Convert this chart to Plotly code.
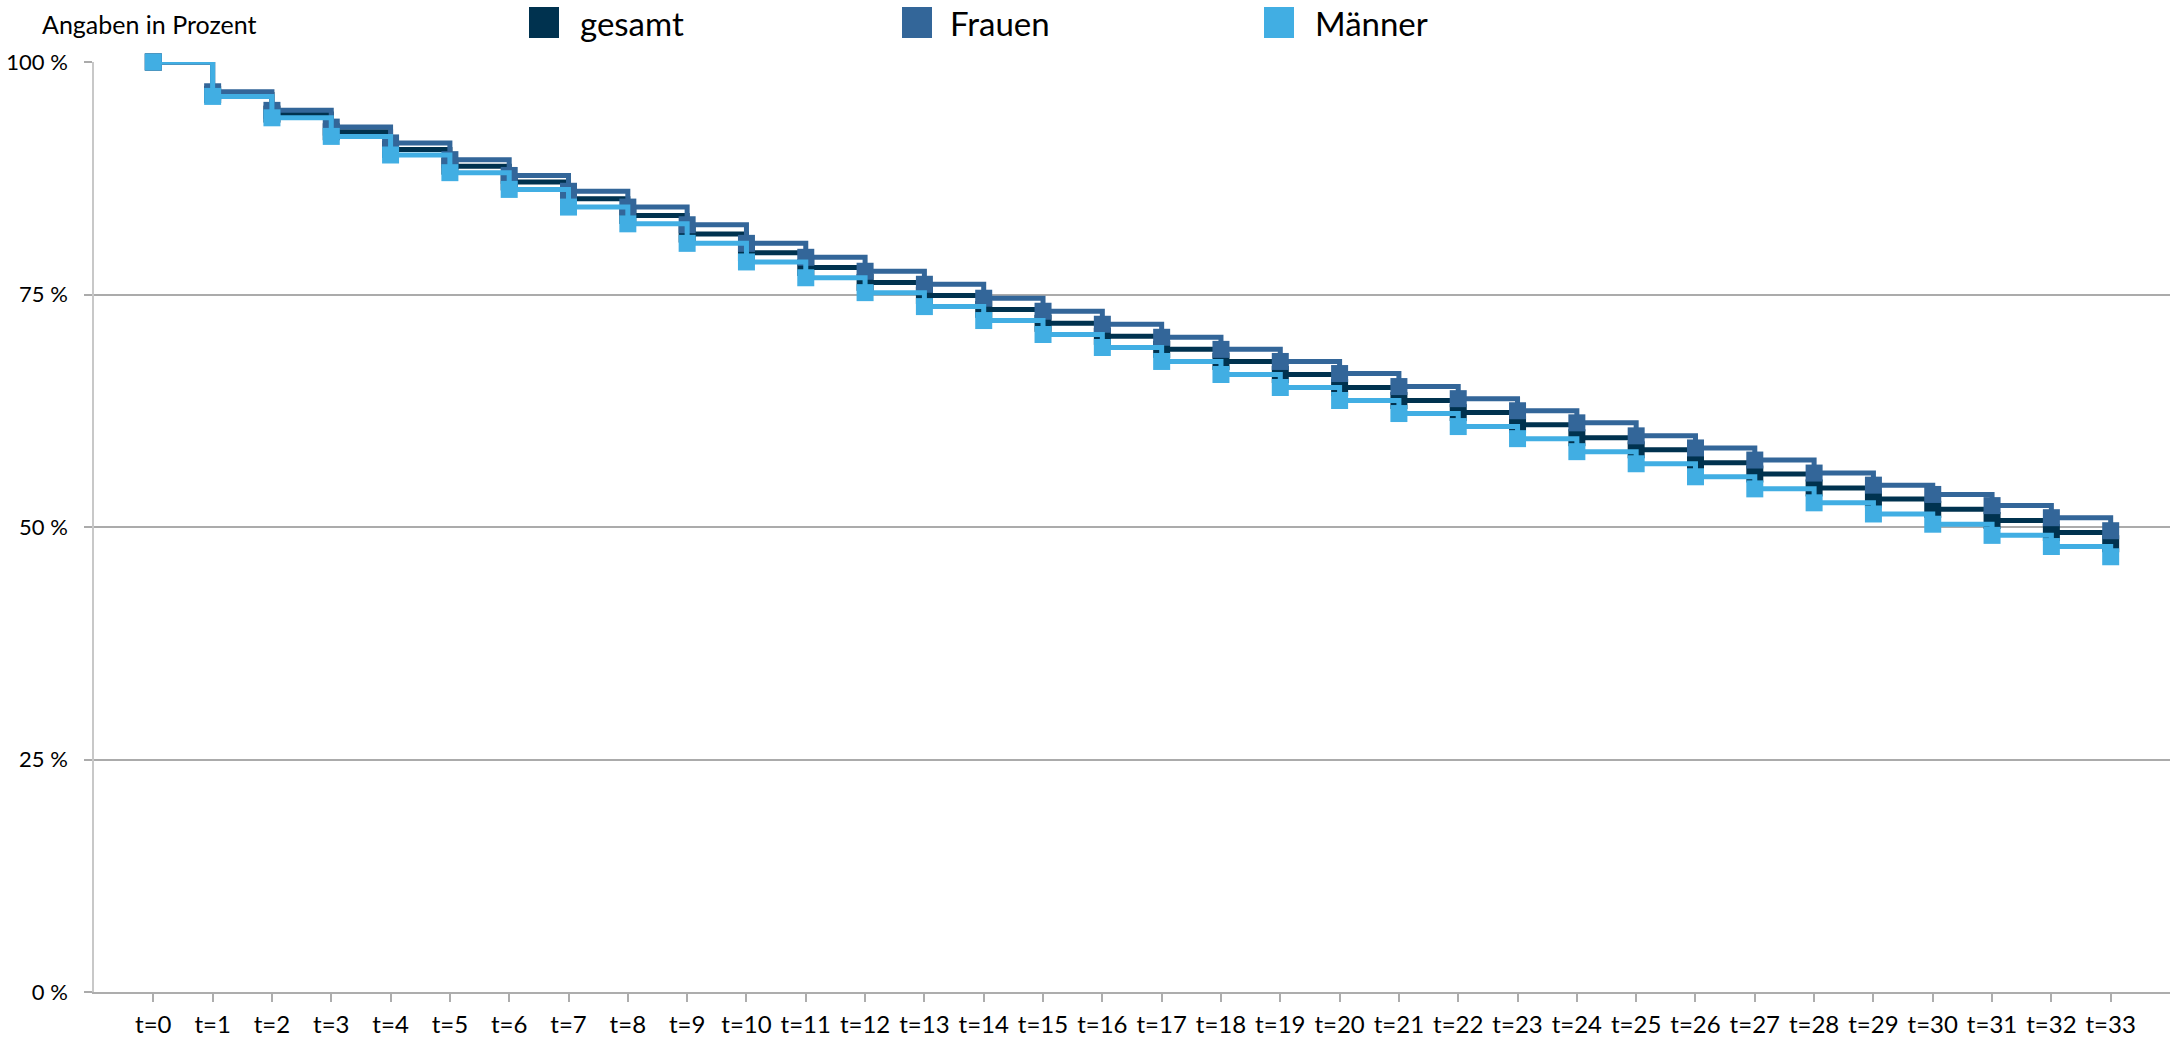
import plotly.graph_objects as go

# ---- data ----
zeitpunkte = [f"t={i}" for i in range(34)]
serien = ["gesamt", "Frauen", "Männer"]
gesamt = [100, 96.5, 94.4, 92.5, 90.6, 88.8, 87.1, 85.3, 83.5, 81.5, 79.5, 77.9, 76.3, 74.9,
          73.4, 71.9, 70.5, 69.1, 67.8, 66.4, 65.0, 63.6, 62.3, 61.0, 59.6, 58.3, 56.9, 55.7,
          54.2, 53.0, 51.9, 50.7, 49.4, 48.2]
frauen = [100, 96.8, 94.8, 93.0, 91.3, 89.5, 87.8, 86.1, 84.4, 82.5, 80.5, 79.0, 77.5, 76.1,
          74.6, 73.2, 71.8, 70.4, 69.1, 67.8, 66.5, 65.1, 63.8, 62.5, 61.2, 59.8, 58.5, 57.2,
          55.8, 54.5, 53.5, 52.3, 51.0, 49.6]
maenner = [100, 96.3, 94.0, 92.0, 90.0, 88.1, 86.3, 84.4, 82.6, 80.5, 78.5, 76.8, 75.2, 73.7,
           72.2, 70.7, 69.3, 67.8, 66.4, 65.0, 63.6, 62.2, 60.8, 59.5, 58.1, 56.8, 55.4, 54.1,
           52.6, 51.4, 50.3, 49.1, 47.9, 46.8]
y_ticks = [0, 25, 50, 75, 100]
y_ticktext = ["0 %", "25 %", "50 %", "75 %", "100 %"]

farben = ["#00324F", "#336699", "#41AEE3"]
FONT = "Lato, 'Open Sans', sans-serif"

W, H = 2170, 1041
ML, MR, MT, MB = 94, 0, 62, 49
PW, PH = W - ML - MR, H - MT - MB


def px_x(x):
    return (x - ML) / PW


def px_y(y):
    return 1 + (MT - y) / PH


x_idx = list(range(len(zeitpunkte)))
fig = go.Figure()
for name, vals, col in zip(serien, [gesamt, frauen, maenner], farben):
    fig.add_trace(go.Scatter(
        x=x_idx, y=vals, name=name, mode="lines+markers",
        line=dict(color=col, width=5, shape="hv"),
        marker=dict(symbol="square", size=17, color=col),
        cliponaxis=False, showlegend=False))

# legend drawn at the top (square swatch + label)
legend_sq_left = [529, 902, 1264]
legend_txt_left = [580, 950, 1315]
shapes = []
annotations = []
for name, col, sx, tx in zip(serien, farben, legend_sq_left, legend_txt_left):
    shapes.append(dict(type="rect", xref="paper", yref="paper",
                       x0=px_x(sx), x1=px_x(sx + 30), y0=px_y(38), y1=px_y(7),
                       fillcolor=col, line=dict(width=0)))
    annotations.append(dict(text=name, xref="paper", yref="paper", x=px_x(tx), y=px_y(23),
                            xanchor="left", yanchor="middle", showarrow=False,
                            xshift=-2, font=dict(size=33, family=FONT, color="#000000")))
annotations.append(dict(text="Angaben in Prozent", xref="paper", yref="paper",
                        x=px_x(40), y=px_y(24), xanchor="left", yanchor="middle",
                        showarrow=False, font=dict(size=25, family=FONT, color="#000000")))

fig.update_layout(
    width=W, height=H,
    margin=dict(l=ML, r=MR, t=MT, b=MB, autoexpand=False),
    plot_bgcolor="white", paper_bgcolor="white",
    font=dict(family=FONT, color="#000000", size=25),
    showlegend=False,
    shapes=shapes,
    annotations=annotations,
)
fig.update_xaxes(
    range=[-1, 34], tickmode="array", tickvals=x_idx, ticktext=zeitpunkte,
    showgrid=False, zeroline=False, showline=True, linecolor="#ADADAD", linewidth=2,
    ticks="outside", ticklen=8, tickcolor="#ADADAD", tickwidth=1.5,
    tickfont=dict(size=24), ticklabelstandoff=2)
fig.update_yaxes(
    range=[0, 100], tickmode="array", tickvals=y_ticks, ticktext=y_ticktext,
    showgrid=True, gridcolor="#ABABAB", gridwidth=1.5, zeroline=False,
    showline=True, linecolor="#C8C8C8", linewidth=1.5,
    ticks="outside", ticklen=8, tickcolor="#ABABAB", tickwidth=1.5,
    tickfont=dict(size=22), ticklabelstandoff=12)

fig.write_html("out.html", config={"displayModeBar": False},
               post_script="document.body.style.margin='0';document.body.style.overflow='hidden';")
